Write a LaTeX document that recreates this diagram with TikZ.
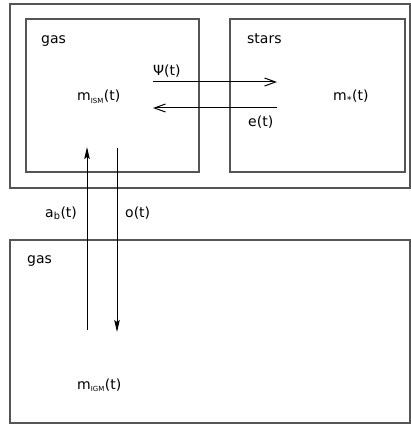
\documentclass[tikz,border=0pt]{standalone}
\usepackage{fontspec}
\setmainfont{DejaVu Sans}
\usepackage{xcolor}
\usetikzlibrary{arrows.meta, positioning, calc}
\definecolor{boxgray}{HTML}{555555}

\begin{document}
\begin{tikzpicture}[x=1pt, y=-1pt, font=\fontsize{14}{16}\selectfont,
  box/.style={line width=1.1pt, boxgray},
  flow/.style={line width=1pt, -{Straight Barb[length=11pt, width=8pt]}},
  vflow/.style={line width=1pt, -{Stealth[length=12pt, width=5.5pt, inset=2pt]}},
  lbl/.style={anchor=base west, inner sep=0pt}]
  \useasboundingbox (0,0) rectangle (411,425);

  % Boxes
  \coordinate (G1) at (10,4);
  \coordinate (G2) at (410,188);
  \coordinate (IG1) at (26,19);
  \coordinate (IG2) at (199,172);
  \coordinate (S1) at (230,19);
  \coordinate (S2) at (405,172);
  \coordinate (M1) at (10,240);
  \coordinate (M2) at (410,423);

  \draw[box] (G1) rectangle (G2);
  \draw[box] (IG1) rectangle (IG2);
  \draw[box] (S1) rectangle (S2);
  \draw[box] (M1) rectangle (M2);

  % Arrow ends
  \coordinate (sfA) at (153,82);
  \coordinate (sfB) at (277,82);
  \coordinate (ejA) at (277,108);
  \coordinate (ejB) at (153,108);
  \coordinate (acA) at (87,330);
  \coordinate (acB) at (87,147);
  \coordinate (ouA) at (117,148);
  \coordinate (ouB) at (117,332);

  \draw[flow] (sfA) -- (sfB);
  \draw[flow] (ejA) -- (ejB);
  \draw[vflow] (acA) -- (acB);
  \draw[vflow] (ouA) -- (ouB);

  % Labels
  \node[lbl] (gasT) at (41,44) {gas};
  \node[lbl] (stars) at (247,44) {stars};
  \node[lbl] (psi) at (153,76) {Ψ(t)};
  \node[lbl] (eje) at (248,126) {e(t)};
  \node[lbl] (mism) at (77,101) {m\textsubscript{\fontsize{7}{8}\selectfont ISM}(t)};
  \node[lbl] (mstar) at (333,101) {m\textsubscript{*}(t)};
  \node[lbl] (acc) at (45,217) {a\textsubscript{b}(t)};
  \node[lbl] (out) at (125,217) {o(t)};
  \node[lbl] (gasB) at (27,263) {gas};
  \node[lbl] (migm) at (77,389) {m\textsubscript{\fontsize{7}{8}\selectfont IGM}(t)};
\end{tikzpicture}
\end{document}
